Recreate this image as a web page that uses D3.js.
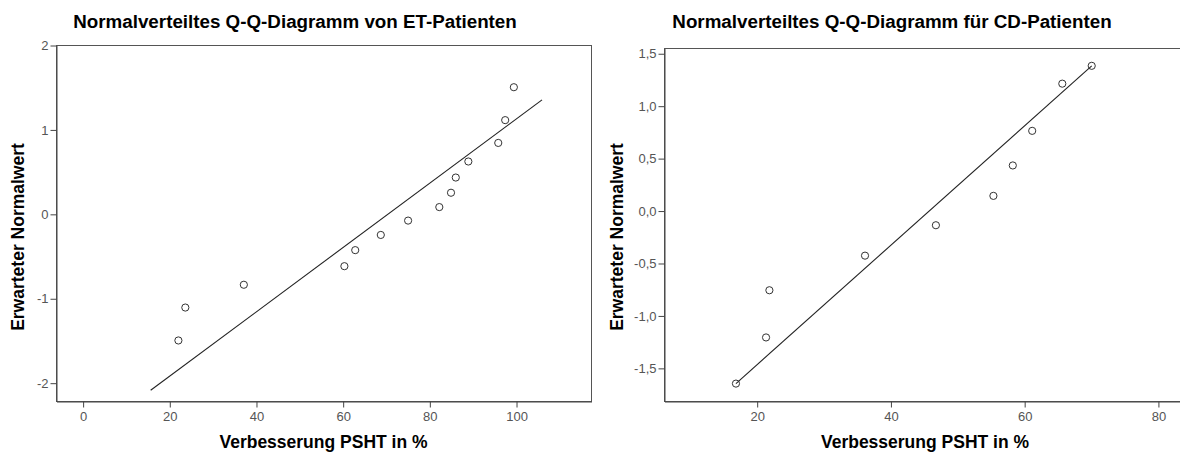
<!DOCTYPE html>
<html>
<head>
<meta charset="utf-8">
<script src="https://cdn.jsdelivr.net/npm/d3@7"></script>
<style>
  html, body { margin: 0; padding: 0; background: #fff; }
  svg { display: block; font-family: "Liberation Sans", Arial, sans-serif; }
</style>
</head>
<body>
<svg id="chart" width="1180" height="455"></svg>
<script>
// ET patients: improvement (%) and expected normal value
const etImprovement = [22.1, 23.7, 37.2, 60.4, 62.9, 68.8, 75.1, 82.3, 85.0, 86.1, 89.0, 95.9, 97.5, 99.5];
const etExpected    = [-1.50, -1.11, -0.84, -0.62, -0.43, -0.25, -0.08, 0.08, 0.25, 0.43, 0.62, 0.84, 1.11, 1.50];
const etLineX = [15.7, 106.0];
const etLineY = [-2.09, 1.35];
const etXTicks = [0, 20, 40, 60, 80, 100];
const etYTicks = [-2, -1, 0, 1, 2];

// CD patients
const cdImprovement = [16.9, 21.4, 21.9, 36.2, 46.8, 55.4, 58.3, 61.2, 65.7, 70.1];
const cdExpected    = [-1.65, -1.21, -0.76, -0.43, -0.14, 0.14, 0.43, 0.76, 1.21, 1.38];
const cdLineX = [16.9, 70.1];
const cdLineY = [-1.65, 1.38];
const cdXTicks = [20, 40, 60, 80];
const cdYTicks = [-1.5, -1.0, -0.5, 0.0, 0.5, 1.0, 1.5];

const titles = [
  "Normalverteiltes Q-Q-Diagramm von ET-Patienten",
  "Normalverteiltes Q-Q-Diagramm für CD-Patienten"
];
const xTitle = "Verbesserung PSHT in %";
const yTitle = "Erwarteter Normalwert";

// German number style: decimal comma, plain hyphen as minus
const de = d3.formatLocale({ decimal: ",", thousands: ".", grouping: [3], currency: ["", " €"], minus: "-" });

const svg = d3.select("#chart");

function drawPanel(p) {
  const x = d3.scaleLinear().domain(p.xDomain).range([p.left, p.right]);
  const y = d3.scaleLinear().domain(p.yDomain).range([p.bottom, p.top]);
  const g = svg.append("g");

  // frame
  g.append("rect")
    .attr("x", p.left + 0.5).attr("y", p.top + 0.5)
    .attr("width", p.right - p.left).attr("height", p.bottom - p.top)
    .attr("fill", "none").attr("stroke", "#555").attr("stroke-width", 1);

  const xAxis = d3.axisBottom(x).tickValues(p.xTicks).tickSizeOuter(0).tickSizeInner(6)
    .tickPadding(4).tickFormat(d => de.format("d")(d));
  const yAxis = d3.axisLeft(y).tickValues(p.yTicks).tickSizeOuter(0).tickSizeInner(6)
    .tickPadding(2).tickFormat(d => p.yFormat(d));

  const gx = g.append("g").attr("class", "x-axis")
    .attr("transform", `translate(0.5,${p.bottom + 0.5})`).call(xAxis);
  const gy = g.append("g").attr("class", "y-axis")
    .attr("transform", `translate(${p.left + 0.5},0.5)`).call(yAxis);
  [gx, gy].forEach(a => {
    a.select(".domain").attr("stroke", "#444");
    a.selectAll(".tick line").attr("stroke", "#444");
    a.selectAll(".tick text").attr("fill", "#555")
      .style("font-size", "13px")
      .style("font-family", "'Liberation Sans', Arial, sans-serif");
  });

  // reference line
  g.append("line")
    .attr("x1", x(p.lineX[0])).attr("y1", y(p.lineY[0]))
    .attr("x2", x(p.lineX[1])).attr("y2", y(p.lineY[1]))
    .attr("stroke", "#222").attr("stroke-width", 1.1);

  // observed points
  g.append("g").selectAll("circle").data(d3.zip(p.xs, p.ys)).join("circle")
    .attr("cx", d => x(d[0])).attr("cy", d => y(d[1]))
    .attr("r", 3.6).attr("fill", "none").attr("stroke", "#333").attr("stroke-width", 1);

  // titles, centred over each chart's full width
  g.append("text").attr("x", p.titleX).attr("y", 28)
    .attr("text-anchor", "middle").style("font-weight", "bold").style("font-size", "18.8px")
    .text(p.title);
  g.append("text").attr("x", (p.left + p.right) / 2).attr("y", 448)
    .attr("text-anchor", "middle").style("font-weight", "bold").style("font-size", "17.5px")
    .text(xTitle);
  g.append("text")
    .attr("transform", `translate(${p.yTitleX},237) rotate(-90)`)
    .attr("text-anchor", "middle").attr("dy", "0.35em")
    .style("font-weight", "bold").style("font-size", "17.5px")
    .text(yTitle);
}

drawPanel({
  xs: etImprovement, ys: etExpected, lineX: etLineX, lineY: etLineY,
  xTicks: etXTicks, yTicks: etYTicks, yFormat: de.format("d"),
  xDomain: [-6.14, 117.3], yDomain: [-2.217, 2.0],
  left: 56, right: 591, top: 45, bottom: 401,
  title: titles[0], titleX: 295, yTitleX: 18
});

drawPanel({
  xs: cdImprovement, ys: cdExpected, lineX: cdLineX, lineY: cdLineY,
  xTicks: cdXTicks, yTicks: cdYTicks, yFormat: de.format(".1f"),
  xDomain: [6.14, 84.2], yDomain: [-1.816, 1.55],
  left: 664, right: 1186, top: 48, bottom: 401,
  title: titles[1], titleX: 892, yTitleX: 617
});
</script>
</body>
</html>
